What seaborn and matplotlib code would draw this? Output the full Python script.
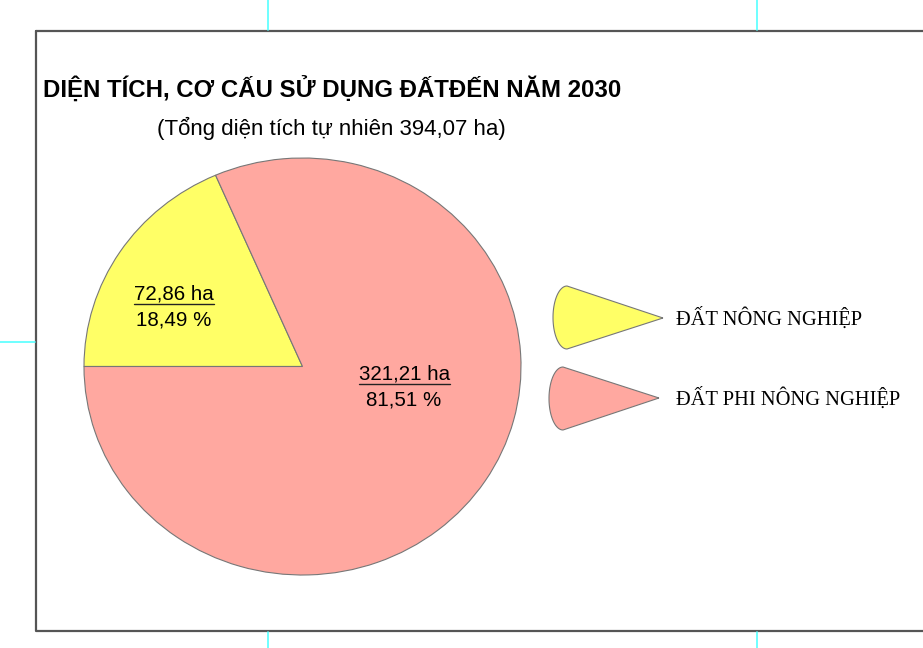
import matplotlib.pyplot as plt
import matplotlib.patches as mpatches
from matplotlib.path import Path
from matplotlib.lines import Line2D
import numpy as np
import seaborn as sns

# data
categories = ['ĐẤT NÔNG NGHIỆP', 'ĐẤT PHI NÔNG NGHIỆP']
areas = [72.86, 321.21]
area_labels = ['72,86 ha', '321,21 ha']
pct_labels = ['18,49 %', '81,51 %']
colors = ['#ffff66', '#ffa8a0']
total_label = '(Tổng diện tích tự nhiên 394,07 ha)'
title = 'DIỆN TÍCH, CƠ CẤU SỬ DỤNG ĐẤTĐẾN NĂM 2030'

sns.set_style('white')
plt.rcParams['font.family'] = ['Liberation Sans', 'DejaVu Sans']
plt.rcParams['text.color'] = 'black'

W, H = 923, 648
fig = plt.figure(figsize=(W / 100, H / 100), dpi=100)

# overlay axes in pixel coords for frame, crop marks, legend
bg = fig.add_axes([0, 0, 1, 1])
bg.set_xlim(0, W)
bg.set_ylim(H, 0)
bg.axis('off')

# frame
bg.plot([36, 36, W + 5], [31, 631, 631], color='#555555', lw=1.6)
bg.plot([36, W + 5], [31, 31], color='#555555', lw=1.6)
# crop marks
cyan = '#55ffff'
for x in [268, 757]:
    bg.plot([x, x], [0, 30], color=cyan, lw=1.2)
    bg.plot([x, x], [632, H], color=cyan, lw=1.2)
bg.plot([0, 35], [342, 342], color=cyan, lw=1.2)

# titles
bg.text(43, 90, title, fontsize=17.3, fontweight='bold', ha='left', va='center')
bg.text(331, 128, total_label, fontsize=16, ha='center', va='center')

# pie (slightly squashed ellipse like the reference)
cx, cy, rx, ry = 302.5, 366.5, 218.5, 208.5
ax = fig.add_axes([(cx - rx) / W, (H - cy - ry) / H, 2 * rx / W, 2 * ry / H])
ax.pie(areas, colors=colors, startangle=180, counterclock=False,
       wedgeprops=dict(edgecolor='#777777', linewidth=0.8))
ax.set_xlim(-1, 1)
ax.set_ylim(-1, 1)
ax.set_aspect('auto')
ax.axis('off')

label_pos = [(-0.588, 0.285), (0.465, -0.098)]
txts = []
for (x, y), a, p in zip(label_pos, area_labels, pct_labels):
    t = ax.text(x, y + 0.062, a, fontsize=14.8, ha='center', va='center')
    ax.text(x, y - 0.062, p, fontsize=14.8, ha='center', va='center')
    txts.append(t)

# underline the area labels
fig.canvas.draw()
renderer = fig.canvas.get_renderer()
for t in txts:
    bb = t.get_window_extent(renderer)
    y0 = (bb.y0 - 0.5) / H
    fig.add_artist(Line2D([bb.x0 / W, bb.x1 / W], [y0, y0], color='#222222', lw=1.0))

# legend wedges (apex, top, bottom, leftmost x)
leg_shapes = [((663, 318), (567, 286), (567, 349), 553),
              ((659, 398), (563, 367), (563, 430), 549)]
for (apex, top, bot, left), c, name in zip(leg_shapes, colors, categories):
    t = np.linspace(np.pi / 2, 3 * np.pi / 2, 40)
    ecx, ecy = top[0], (top[1] + bot[1]) / 2
    erx, ery = top[0] - left, (bot[1] - top[1]) / 2
    arc = np.column_stack([ecx + erx * np.cos(t), ecy - ery * np.sin(t)])
    verts = np.vstack([[apex], arc, [apex]])
    bg.add_patch(mpatches.PathPatch(Path(verts), facecolor=c,
                                    edgecolor='#777777', lw=0.8))
    bg.text(676, apex[1] + 1, name, fontsize=14.8,
            family=['Liberation Serif', 'DejaVu Serif'], ha='left', va='center')

fig.savefig('out.png', dpi=100)
